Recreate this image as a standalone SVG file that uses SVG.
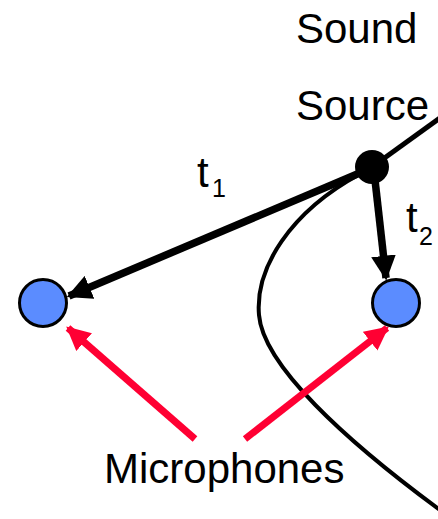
<svg xmlns="http://www.w3.org/2000/svg" width="438" height="519" viewBox="0 0 438 519">
<defs>
<style>
text{font-family:"Liberation Sans",Arial,sans-serif;fill:#000}
.lbl{font-size:42px}
.sub{font-size:25px}
.mic{fill:#5b8cff;stroke:#000;stroke-width:3}
.blk{stroke:#000;stroke-width:7.5;fill:none}
.red{stroke:#ff0033;stroke-width:7;fill:none}
</style>
<marker id="ab" viewBox="0 0 10 10" refX="9" refY="5" markerWidth="3.3" markerHeight="3.3" orient="auto" markerUnits="strokeWidth"><path d="M0,0 L10,5 L0,10 z" fill="#000"/></marker>
<marker id="ar" viewBox="0 0 10 10" refX="9" refY="5" markerWidth="3.4" markerHeight="3.4" orient="auto" markerUnits="strokeWidth"><path d="M0,0 L10,5 L0,10 z" fill="#ff0033"/></marker>
</defs>
<g id="connectors">
<path d="M360,174 C290,212 255,268 259,315 C263,365 345,440 440,510" fill="none" stroke="#000" stroke-width="4"/>
<line x1="372" y1="167" x2="440" y2="118" stroke="#000" stroke-width="5"/>
<line class="blk" x1="362" y1="172" x2="69" y2="296" marker-end="url(#ab)"/>
<line class="blk" x1="375" y1="180" x2="386" y2="278" stroke-width="6.5" marker-end="url(#ab)"/>
<line class="red" x1="195" y1="439" x2="68" y2="328" marker-end="url(#ar)"/>
<line class="red" x1="245" y1="439" x2="387" y2="328" marker-end="url(#ar)"/>
</g>
<g id="source">
<circle cx="372" cy="167" r="17" fill="#000"/>
<text class="lbl" x="296" y="43">Sound</text>
<text class="lbl" x="296" y="120">Source</text>
</g>
<g id="mic1"><circle class="mic" cx="43" cy="303" r="23.5"/></g>
<g id="mic2"><circle class="mic" cx="396" cy="303" r="23.5"/></g>
<g id="t1"><text class="lbl" x="197" y="187">t</text><text class="sub" x="212" y="197">1</text></g>
<g id="t2"><text class="lbl" x="406" y="232">t</text><text class="sub" x="419" y="245">2</text></g>
<g id="microphones"><text class="lbl" x="104" y="483">Microphones</text></g>
</svg>
